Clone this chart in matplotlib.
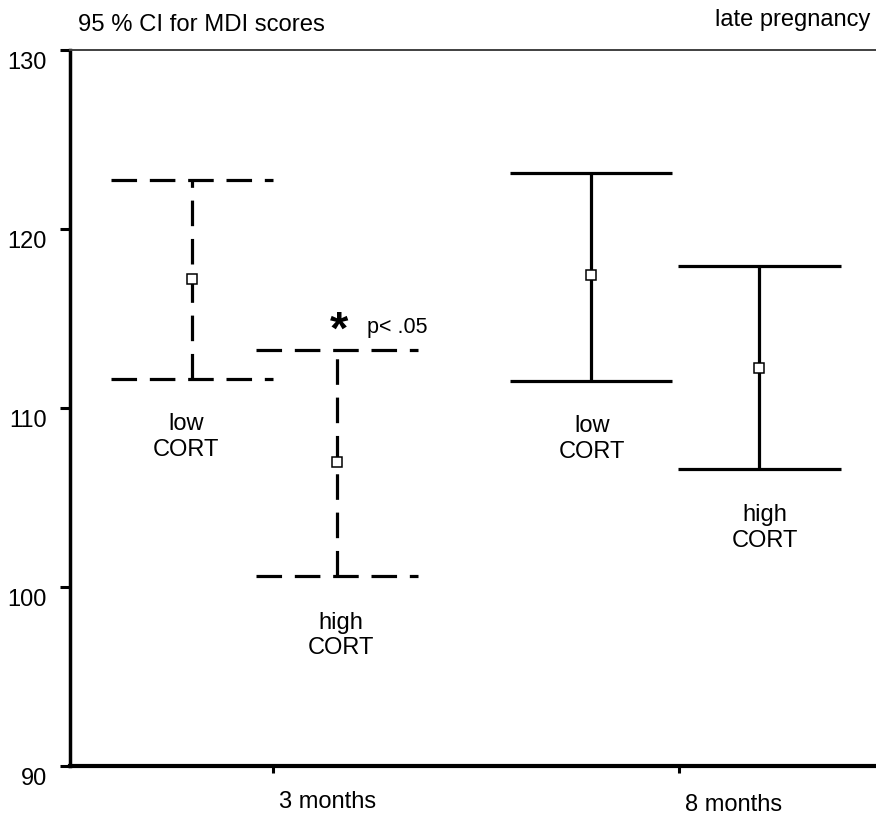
import matplotlib
matplotlib.use("Agg")
import matplotlib.pyplot as plt

plt.rcParams['font.family'] = ['Liberation Sans', 'DejaVu Sans']

# ---- data ----
timepoints = ["3 months", "8 months"]
groups = ["low\nCORT", "high\nCORT", "low\nCORT", "high\nCORT"]
group_time = [0, 0, 1, 1]
means = [117.2, 107.0, 117.4, 112.2]
lower = [111.6, 100.6, 111.5, 106.6]
upper = [122.7, 113.25, 123.1, 117.9]
yticks = [90, 100, 110, 120, 130]

# ---- layout / style ----
offsets = [-0.2, 0.158, -0.217, 0.198]
label_dx = [-0.215, 0.168, -0.215, 0.212]
label_y = [108.43, 97.33, 108.32, 103.35]
styles = [(0, (8, 4)), (0, (8, 4)), '-', '-']
capw = 0.2

W, H = 876, 820
fig = plt.figure(figsize=(W / 100, H / 100), dpi=100)
ax = fig.add_axes([70 / W, (H - 767) / H, (W - 70) / W, (767 - 50.7) / H])

for i in range(len(means)):
    x = 1 + group_time[i] + offsets[i]
    ls = styles[i]
    ax.plot([x, x], [lower[i], upper[i]], color='black', lw=2.3, linestyle=ls,
            solid_capstyle='butt', dash_capstyle='butt')
    for yv in (lower[i], upper[i]):
        ax.plot([x - capw, x + capw], [yv, yv], color='black', lw=2.3, linestyle=ls,
                solid_capstyle='butt', dash_capstyle='butt')
    ax.plot([x], [means[i]], marker='s', markersize=7.5, markerfacecolor='white',
            markeredgecolor='black', markeredgewidth=1.1, zorder=5)
    ax.text(1 + group_time[i] + label_dx[i], label_y[i], groups[i], ha='center',
            va='center', fontsize=17, linespacing=1.2)

# significance marker
x_sig = 1 + group_time[1] + offsets[1]
ax.text(x_sig + 0.005, 114.3, "*", ha='center', va='center', fontsize=34, fontweight='bold')
ax.annotate("p< .05", xy=(x_sig, upper[1]), xycoords='data', xytext=(30, 18),
            textcoords='offset pixels', ha='left', va='baseline', fontsize=15.5)

ax.set_xlim(0.5, 2.485)
ax.set_ylim(90, 130)
ax.set_yticks(yticks)
ax.set_yticklabels([])
for v in yticks:
    ax.annotate(str(v), xy=(0, v), xycoords=('axes fraction', 'data'),
                xytext=(-23, -12), textcoords='offset pixels',
                ha='right', va='center', fontsize=17)

ax.set_xticks([1, 2])
ax.set_xticklabels([])
xlab_dy = [-41, -44]
for k, t in enumerate(timepoints):
    ax.annotate(t, xy=(k + 1, 0), xycoords=('data', 'axes fraction'),
                xytext=(6, xlab_dy[k]), textcoords='offset pixels',
                ha='left', va='baseline', fontsize=17)

ax.tick_params(axis='y', direction='out', length=7, width=2.2)
ax.tick_params(axis='x', direction='out', length=5, width=2.2)

ax.spines['right'].set_visible(False)
ax.spines['left'].set_linewidth(2.5)
ax.spines['bottom'].set_linewidth(3.0)
ax.spines['top'].set_linewidth(1.4)
ax.spines['top'].set_color('#404040')

fig.text(78 / W, 1 - 31 / H, "95 % CI for MDI scores", ha='left', va='baseline', fontsize=17.2)
fig.text(870 / W, 1 - 26 / H, "late pregnancy", ha='right', va='baseline', fontsize=17)

fig.savefig("out.png", dpi=100)
